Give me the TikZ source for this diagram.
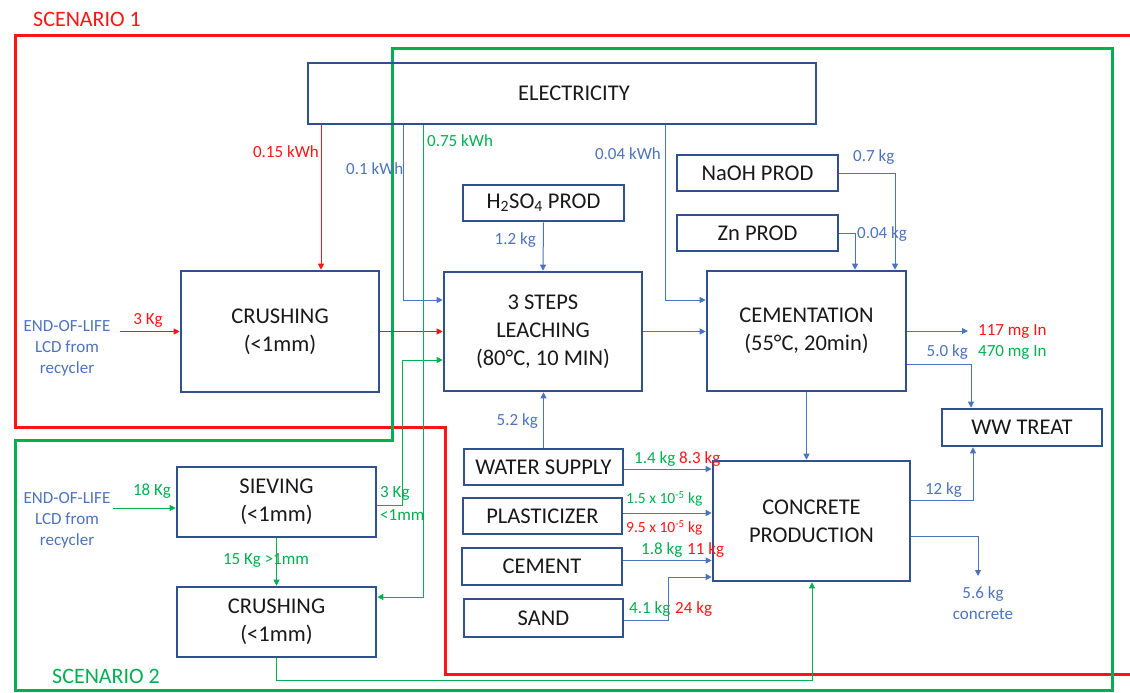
\documentclass[tikz,border=0pt]{standalone}
\usepackage{fontspec}
\setmainfont{Carlito}
\usetikzlibrary{arrows.meta}
\definecolor{boxblue}{RGB}{47,82,143}
\definecolor{lblue}{RGB}{76,115,190}
\definecolor{sred}{RGB}{255,20,20}
\definecolor{sgreen}{RGB}{0,176,80}
\definecolor{txt}{RGB}{25,25,25}
\begin{document}
\begin{tikzpicture}[x=1pt,y=-1pt,
 box/.style={draw=boxblue,line width=2.6pt,inner sep=0pt,align=center,text=txt,font=\fontsize{22.5}{28}\selectfont},
 lab/.style={inner sep=0pt,font=\fontsize{17}{21}\selectfont},
 bl/.style={draw=lblue,line width=1pt},
 rl/.style={draw=sred,line width=1pt},
 gl/.style={draw=sgreen,line width=0.9pt},
 tip/.style={-{Triangle[length=6pt,width=6pt]}},
 scen/.style={line width=3pt}
]
\useasboundingbox (0,0) rectangle (1130,693);
% scenario borders
\draw[scen,sred] (1140,36) -- (15,36) -- (15,427) -- (445,427) -- (445,674) -- (1140,674);
\draw[scen,sgreen] (15,690) -- (15,440) -- (392,440) -- (392,49) -- (1112,49) -- (1112,690) -- cycle;
\node[lab,anchor=west,text=sred,font=\fontsize{22}{26}\selectfont] (sc1) at (33,19) {SCENARIO 1};
\node[lab,anchor=west,text=sgreen,font=\fontsize{22}{26}\selectfont] (sc2) at (52,676) {SCENARIO 2};

% boxes
\node[box,minimum width=508pt,minimum height=61pt] (elec) at (562,93.5) {\hspace*{24pt}ELECTRICITY};
\node[box,minimum width=161pt,minimum height=36pt] (h2so4) at (543.5,203) {H\textsubscript{2}SO\textsubscript{4} PROD};
\node[box,minimum width=161pt,minimum height=36pt] (naoh) at (757.5,173) {NaOH PROD};
\node[box,minimum width=161pt,minimum height=36pt] (zn) at (757.5,233) {Zn PROD};
\node[box,minimum width=199pt,minimum height=120pt] (cem) at (806.5,331) {CEMENTATION\\(55°C, 20min)};
\node[box,minimum width=198pt,minimum height=119pt] (leach) at (543,331.5) {3 STEPS\\LEACHING\\(80°C, 10 MIN)};
\node[box,minimum width=198pt,minimum height=121pt] (crush1) at (280,331.5) {CRUSHING\\(<1mm)};
\node[box,minimum width=199pt,minimum height=70pt] (siev) at (276.5,502) {SIEVING\\(<1mm)};
\node[box,minimum width=199pt,minimum height=70pt] (crush2) at (276.5,622) {CRUSHING\\(<1mm)};
\node[box,minimum width=159pt,minimum height=36pt] (water) at (543.5,467) {WATER SUPPLY};
\node[box,minimum width=159pt,minimum height=36pt] (plast) at (542.5,516) {PLASTICIZER};
\node[box,minimum width=160pt,minimum height=37pt] (cement) at (542,566.5) {CEMENT};
\node[box,minimum width=159pt,minimum height=38pt] (sand) at (543.5,618) {SAND};
\node[box,minimum width=197pt,minimum height=120pt] (conc) at (811.5,521) {CONCRETE\\PRODUCTION};
\node[box,minimum width=160pt,minimum height=37pt] (ww) at (1022,427.5) {WW TREAT};

% end-of-life texts
\node[lab,align=center,text=lblue] (eol1t) at (67,348) {END-OF-LIFE\\LCD from\\recycler};
\node[lab,align=center,text=lblue] (eol2t) at (67,520) {END-OF-LIFE\\LCD from\\recycler};

% helper coordinates
\coordinate (eol1) at (120,331.5);
\coordinate (eol2) at (113,508);
\coordinate (xr) at (321,0);
\coordinate (xb) at (403,300);
\coordinate (xg) at (423,597);
\coordinate (xs) at (402,360);
\coordinate (xc) at (665,300);
\coordinate (xn) at (895,0);
\coordinate (xz) at (855,0);
\coordinate (out) at (968,331);
\coordinate (xw) at (971,0);
\coordinate (xsd) at (668,577);
\coordinate (xcb) at (812,680);
\coordinate (x12) at (973,0);
\coordinate (cout) at (978,576);

% scenario 1 connectors
\draw[rl,tip] (xr |- elec.south) -- (xr |- crush1.north);
\node[lab,anchor=east,text=sred] (l015) at (319,152) {0.15 kWh};
\draw[rl,tip] (eol1) -- (crush1.west);
\node[lab,text=sred] (l3kg) at (148,320) {3 Kg};
\draw[rl,tip] (crush1.east) -- (crush1.east -| leach.west);

% electricity blue
\draw[bl,tip] (xb |- elec.south) -- (xb) -- (xb -| leach.west);
\node[lab,anchor=west,text=lblue] (l01) at (346,169) {0.1 kWh};
\draw[bl,tip] (xc |- elec.south) -- (xc) -- (xc -| cem.west);
\node[lab,anchor=east,text=lblue] (l004) at (661,154) {0.04 kWh};

% electricity green
\draw[gl,tip] (xg |- elec.south) -- (xg) -- (xg -| crush2.east);
\node[lab,anchor=west,text=sgreen] (l075) at (427,141) {0.75 kWh};

% scenario 2 front end
\draw[gl,tip] (eol2) -- (eol2 -| siev.west);
\node[lab,text=sgreen] (l18) at (152,491) {18 Kg};
\draw[gl,tip] ([yshift=-3pt]siev.east) -| (xs) -- (xs -| leach.west);
\node[lab,anchor=west,text=sgreen] (l3kb) at (380,493) {3 Kg};
\node[lab,anchor=west,text=sgreen] (l1mm) at (380,515) {<1mm};
\draw[gl,tip] (siev.south) -- (crush2.north);
\node[lab,text=sgreen] (l15) at (266,560) {15 Kg >1mm};
\draw[gl,tip] (crush2.south) |- (xcb) -- (xcb |- conc.south);

% chemicals
\draw[bl,tip] (h2so4.south) -- (leach.north);
\node[lab,anchor=east,text=lblue] (l12) at (536,240) {1.2 kg};
\draw[bl,tip] (leach.east) -- (leach.east -| cem.west);
\draw[bl,tip] (naoh.east) -| (xn |- cem.north);
\node[lab,anchor=west,text=lblue] (l07) at (853,157) {0.7 kg};
\draw[bl,tip] (zn.east) -| (xz |- cem.north);
\node[lab,anchor=west,text=lblue] (l004kg) at (857,234) {0.04 kg};

% cementation outputs
\draw[bl,tip] (cem.east) -- (out);
\node[lab,anchor=west,text=sred] (l117) at (978,331) {117 mg In};
\node[lab,anchor=west,text=sgreen] (l470) at (978,352) {470 mg In};
\draw[bl,tip] ([yshift=-33pt]cem.east) -| (xw |- ww.north);
\node[lab,anchor=east,text=lblue] (l50) at (968,352) {5.0 kg};
\draw[bl,tip] (cem.south) -- (cem.south |- conc.north);

% water & concrete inputs
\draw[bl,tip] (water.north) -- (water.north |- leach.south);
\node[lab,anchor=east,text=lblue] (l52) at (538,421) {5.2 kg};
\draw[bl,tip] ([yshift=-2pt]water.east) -- ([yshift=-2pt]water.east -| conc.west);
\node[lab,anchor=west,text=sgreen] (l14) at (634,459) {1.4 kg};
\node[lab,anchor=west,text=sred] (l83) at (679,459) {8.3 kg};
\draw[bl,tip] ([yshift=3pt]plast.east) -- ([yshift=3pt]plast.east -| conc.west);
\node[lab,anchor=west,text=sgreen,font=\fontsize{15.5}{19}\selectfont] (l15e) at (626,499) {1.5 x 10\textsuperscript{-5} kg};
\node[lab,anchor=west,text=sred,font=\fontsize{15.5}{19}\selectfont] (l95e) at (626,528) {9.5 x 10\textsuperscript{-5} kg};
\draw[bl,tip] ([yshift=6pt]cement.east) -- ([yshift=6pt]cement.east -| conc.west);
\node[lab,anchor=west,text=sgreen] (l18kg) at (641,550) {1.8 kg};
\node[lab,anchor=west,text=sred] (l11) at (687,550) {11 kg};
\draw[bl,tip] ([yshift=-2pt]sand.east) -| (xsd) -- (xsd -| conc.west);
\node[lab,anchor=west,text=sgreen] (l41) at (629,609) {4.1 kg};
\node[lab,anchor=west,text=sred] (l24) at (675,609) {24 kg};

% concrete outputs
\draw[bl,tip] ([yshift=21pt]conc.east) -| (x12 |- ww.south);
\node[lab,anchor=east,text=lblue] (l12kg) at (962,490) {12 kg};
\draw[bl,tip] ([yshift=-15pt]conc.east) -| (cout);
\node[lab,align=center,text=lblue] (l56) at (983,603) {5.6 kg\\concrete};
\end{tikzpicture}
\end{document}
